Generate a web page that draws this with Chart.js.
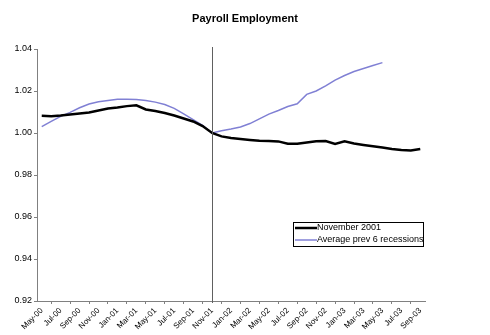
<html>
  <head>
    <script src="https://cdn.jsdelivr.net/npm/chart.js"></script>
    <style>
      body {
        margin: 0;
        background: #fff;
      }
    </style>
  </head>
  <body>
    <div style="width: 490px; height: 335px">
      <canvas id="payroll_chart"></canvas>
    </div>
    <script>
      // Months, May 2000 to Sep 2003
      const months = [
        "May-00", "Jun-00", "Jul-00", "Aug-00", "Sep-00", "Oct-00", "Nov-00", "Dec-00",
        "Jan-01", "Feb-01", "Mar-01", "Apr-01", "May-01", "Jun-01", "Jul-01", "Aug-01",
        "Sep-01", "Oct-01", "Nov-01", "Dec-01", "Jan-02", "Feb-02", "Mar-02", "Apr-02",
        "May-02", "Jun-02", "Jul-02", "Aug-02", "Sep-02", "Oct-02", "Nov-02", "Dec-02",
        "Jan-03", "Feb-03", "Mar-03", "Apr-03", "May-03", "Jun-03", "Jul-03", "Aug-03",
        "Sep-03",
      ];

      // Employment index, Nov 2001 = 1.00
      const nov2001 = [
        1.0082, 1.008, 1.0083, 1.0088, 1.0093, 1.0098, 1.0107, 1.0117,
        1.0121, 1.0128, 1.0132, 1.0112, 1.0105, 1.0095, 1.0083, 1.0069,
        1.0055, 1.0033, 1.0, 0.9984, 0.9976, 0.9971, 0.9967, 0.9963,
        0.9962, 0.996, 0.9949, 0.9949, 0.9955, 0.9961, 0.9962, 0.9948,
        0.996, 0.995, 0.9943, 0.9937, 0.9931, 0.9924, 0.9919, 0.9917,
        0.9924,
      ];

      // Average of the previous 6 recessions (ends May-03)
      const avgPrev6 = [
        1.003, 1.0055, 1.0079, 1.0098, 1.012, 1.0138, 1.0149, 1.0155,
        1.0161, 1.0161, 1.016, 1.0155, 1.0147, 1.0136, 1.0117, 1.0091,
        1.0064, 1.0036, 1.0, 1.0011, 1.0019, 1.0029, 1.0045, 1.0067,
        1.009, 1.0107, 1.0126, 1.0139, 1.0184, 1.02, 1.0224, 1.0252,
        1.0274, 1.0293, 1.0307, 1.0321, 1.0335,
      ];

      const yTicks = [0.92, 0.94, 0.96, 0.98, 1.0, 1.02, 1.04];
      const markMonth = "Nov-01";

      const axisGrey = "#808080";

      // Vertical marker at the Nov 2001 trough
      const markerLine = {
        id: "markerLine",
        afterDatasetsDraw(chart) {
          const ctx = chart.ctx;
          const x = Math.round(chart.scales.x.getPixelForValue(months.indexOf(markMonth))) + 0.5;
          const area = chart.chartArea;
          ctx.save();
          ctx.strokeStyle = "#606060";
          ctx.lineWidth = 1;
          ctx.beginPath();
          ctx.moveTo(x, area.top - 2);
          ctx.lineTo(x, area.bottom + 2);
          ctx.stroke();
          ctx.restore();
        },
      };

      // Boxed legend sitting inside the plot, lower right
      const boxLegend = {
        id: "boxLegend",
        afterDraw(chart) {
          const ctx = chart.ctx;
          const area = chart.chartArea;
          const left = area.right - 132;
          const top = area.top + 173;
          const w = 130;
          const h = 24;
          ctx.save();
          ctx.fillStyle = "#fff";
          ctx.fillRect(left, top, w, h);
          ctx.strokeStyle = "#000";
          ctx.lineWidth = 1;
          ctx.strokeRect(left + 0.5, top + 0.5, w, h);
          ctx.font = "9px Arial, 'Liberation Sans'";
          ctx.textBaseline = "middle";
          chart.data.datasets.forEach((ds, i) => {
            const y = top + 6 + i * 12;
            ctx.strokeStyle = ds.borderColor;
            ctx.lineWidth = ds.borderWidth;
            ctx.beginPath();
            ctx.moveTo(left + 2, y);
            ctx.lineTo(left + 24, y);
            ctx.stroke();
            ctx.fillStyle = "#000";
            ctx.fillText(ds.label, left + 24, y);
          });
          ctx.restore();
        },
      };

      new Chart("payroll_chart", {
        type: "line",
        data: {
          labels: months,
          datasets: [
            {
              label: "November 2001",
              data: nov2001,
              borderColor: "#000000",
              borderWidth: 2.5,
              pointRadius: 0,
              tension: 0,
            },
            {
              label: "Average prev 6 recessions",
              data: avgPrev6,
              borderColor: "#8080d4",
              borderWidth: 1.5,
              pointRadius: 0,
              tension: 0,
            },
          ],
        },
        plugins: [markerLine, boxLegend],
        options: {
          responsive: true,
          maintainAspectRatio: false,
          animation: false,
          layout: {
            padding: 0,
          },
          plugins: {
            legend: { display: false },
            tooltip: { enabled: false },
            title: {
              display: true,
              text: "Payroll Employment",
              color: "#000",
              font: { family: "Arial, 'Liberation Sans'", size: 11, weight: "bold" },
              padding: { top: 12, bottom: 23.8 },
            },
          },
          scales: {
            x: {
              offset: true,
              afterFit(scale) {
                scale.height = 34;
              },
              grid: {
                offset: true,
                drawOnChartArea: false,
                drawTicks: true,
                tickLength: 3,
                color: axisGrey,
              },
              border: { display: true, color: axisGrey, width: 1 },
              ticks: {
                autoSkip: false,
                maxRotation: 45,
                minRotation: 45,
                padding: 2,
                color: "#000",
                font: { family: "Arial, 'Liberation Sans'", size: 8 },
                callback: (v, i) => (i % 2 === 0 ? months[i] : null),
              },
            },
            y: {
              min: yTicks[0],
              max: yTicks[yTicks.length - 1],
              afterFit(scale) {
                scale.width = 37;
              },
              afterBuildTicks(scale) {
                scale.ticks = yTicks.map((v) => ({ value: v }));
              },
              grid: {
                drawOnChartArea: false,
                drawTicks: true,
                tickLength: 3,
                color: axisGrey,
              },
              border: { display: true, color: axisGrey, width: 1 },
              ticks: {
                padding: 2,
                color: "#000",
                font: { family: "Arial, 'Liberation Sans'", size: 9 },
                callback: (v) => v.toFixed(2),
              },
            },
            // empty right-hand margin so the title centres on the whole page
            spacer: {
              type: "linear",
              position: "right",
              afterFit(scale) {
                scale.width = 65;
              },
              grid: { display: false },
              border: { display: false },
              ticks: { display: false },
            },
          },
        },
      });
    </script>
  </body>
</html>
